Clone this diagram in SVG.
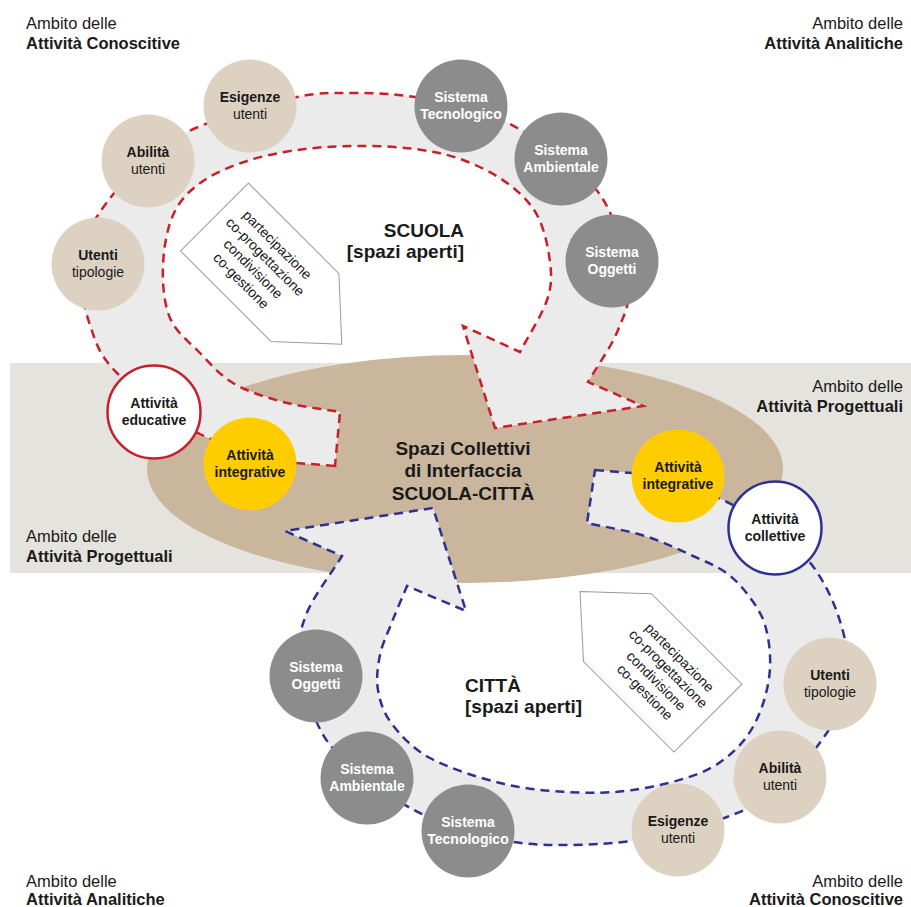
<svg xmlns="http://www.w3.org/2000/svg" width="911" height="907" viewBox="0 0 911 907">
<style>
text{font-family:"Liberation Sans",Arial,Helvetica,sans-serif;fill:#1a1a1a}
.b{font-weight:bold}
.lab{font-size:16.5px}
.c{font-size:14px;text-anchor:middle}
.w{fill:#ffffff}
.big{font-size:19px;font-weight:bold}
.p{font-size:14px;text-anchor:middle}
.beige{fill:#ddd1c1}
.grey{fill:#8c8c8c}
.yel{fill:#ffcc00}
.band{fill:#ebebeb}
.red{fill:none;stroke:#c8202a;stroke-width:2.5;stroke-dasharray:9 6}
.blue{fill:none;stroke:#2e3192;stroke-width:2.5;stroke-dasharray:9 6}
.tag{fill:#ffffff;stroke:#9a9a9a;stroke-width:1}
</style>
<rect x="0" y="0" width="911" height="907" fill="#ffffff"/>
<rect x="10" y="363" width="901" height="210" fill="#e5e3de"/>
<ellipse id="interfaccia-shape" cx="465" cy="469" rx="318" ry="114" fill="#c9b69d"/>

<g id="bands">
<path id="scuola-loop" class="band" d="M335,466 L297,463 C274.5,457.7 230,449 200,434 C170,419 135.3,391.2 117,373 C98.7,354.8 96.2,343 90,325 C83.8,307 78.7,283.3 80,265 C81.3,246.7 86.7,232.8 98,215 C109.3,197.2 130.5,173 148,158 C165.5,143 178.2,135.2 203,125 C227.8,114.8 271.5,102.3 297,97 C322.5,91.7 336.3,93.2 356,93 C375.7,93 395,94 415,97 C440.7,102.2 479.5,108.2 510,124 C540.5,139.8 578.3,166 598,192 C617.7,218 624.7,257 628,280 C631.3,303 624.7,313 618,330 C611.3,347 598,364.7 588,382 L643,406 L495,428 L463,326 L520,352 C529,334.7 542,315 547,300 C552,285 551.7,276.2 550,262 C548.3,247.8 544.2,228.2 537,215 C529.8,201.8 519.3,192.2 507,183 C494.7,173.8 478.3,165.7 463,160 C447.7,154.3 432.2,151.3 415,149 C397.8,146.7 378.3,146 360,146 C341.7,146 323.3,146.7 305,149 C286.7,151.3 267,154.7 250,160 C233,165.3 215.7,172.2 203,181 C190.3,189.8 180.7,199 174,213 C167.3,227 163.7,247.5 163,265 C162.3,282.5 163.8,303.3 170,318 C176.2,332.7 189.5,342.2 200,353 C210.5,363.8 219.2,374.8 233,383 C246.8,391.2 265.2,397.2 283,402 C300.8,406.8 321,408.7 340,412 L335,466 Z"/>
<use href="#scuola-loop" class="red"/>
<path id="citta-loop" class="band" d="M595,470 L632,473 C646.2,475.3 664.2,479.2 680,484 C695.8,488.8 711.2,494.3 727,502 C742.8,509.7 760.8,519.5 775,530 C789.2,540.5 801.5,550.8 812,565 C822.5,579.2 831.8,596.7 838,615 C844.2,633.3 850,656.7 849,675 C848,693.3 843.2,706.7 832,725 C820.8,743.3 799.5,769.7 782,785 C764.5,800.3 751.8,807.7 727,817 C702.2,826.3 668.7,836.8 633,841 C597.3,845.2 549.5,847.2 513,842 C476.5,836.8 444.5,826.2 414,810 C383.5,793.8 348.8,769.2 330,745 C311.2,720.8 305,686.7 301,665 C297,643.3 299.2,633.2 306,615 C312.8,596.8 330,575.7 342,556 L285,531 L433,508 L466,611 L407,586 C402,598 396.5,610.5 392,622 C387.5,633.5 382.3,643.7 380,655 C377.7,666.3 376,678.5 378,690 C380,701.5 383.3,712.7 392,724 C400.7,735.3 412,748.2 430,758 C448,767.8 477.2,777.3 500,783 C522.8,788.7 544.8,790.8 567,792 C589.2,793.2 610.8,793.2 633,790 C655.2,786.8 682.5,780.2 700,773 C717.5,765.8 728,757.2 738,747 C748,736.8 754.7,725.2 760,712 C765.3,698.8 769.2,682.5 770,668 C770.8,653.5 768.7,637.2 765,625 C761.3,612.8 754.7,603.8 748,595 C741.3,586.2 734.2,578.5 725,572 C715.8,565.5 706.3,562 693,556 C679.7,550 662.7,541.5 645,536 C628,530.5 606.3,527.3 587,523 L595,470 Z"/>
<use href="#citta-loop" class="blue"/>
</g>

<g id="tag-scuola" transform="translate(259,263) rotate(45)">
<polygon class="tag" points="-64,-49 64,-49 116,-1 64,47 -64,47"/>
<text class="p" x="0" y="-21">partecipazione</text>
<text class="p" x="0" y="-4">co-progettazione</text>
<text class="p" x="0" y="13">condivisione</text>
<text class="p" x="0" y="30">co-gestione</text>
</g>
<g id="tag-citta" transform="translate(662,675) rotate(45)">
<polygon class="tag" points="-117,-1 -65,-50 63,-50 63,46 -65,46"/>
<text class="p" x="0" y="-20">partecipazione</text>
<text class="p" x="0" y="-4">co-progettazione</text>
<text class="p" x="0" y="13">condivisione</text>
<text class="p" x="0" y="29">co-gestione</text>
</g>

<g id="n-utenti-1"><circle class="beige" cx="98" cy="264" r="46.5"/><text class="c b" x="98" y="260">Utenti</text><text class="c" x="98" y="277">tipologie</text></g>
<g id="n-abilita-1"><circle class="beige" cx="148" cy="161" r="46.5"/><text class="c b" x="148" y="157">Abilità</text><text class="c" x="148" y="174">utenti</text></g>
<g id="n-esigenze-1"><circle class="beige" cx="250" cy="106" r="46.5"/><text class="c b" x="250" y="102">Esigenze</text><text class="c" x="250" y="119">utenti</text></g>
<g id="n-tecnologico-1"><circle class="grey" cx="461" cy="106" r="46.5"/><text class="c b w" x="461" y="102">Sistema</text><text class="c b w" x="461" y="119">Tecnologico</text></g>
<g id="n-ambientale-1"><circle class="grey" cx="561" cy="159" r="46.5"/><text class="c b w" x="561" y="155">Sistema</text><text class="c b w" x="561" y="172">Ambientale</text></g>
<g id="n-oggetti-1"><circle class="grey" cx="612" cy="261" r="46.5"/><text class="c b w" x="612" y="257">Sistema</text><text class="c b w" x="612" y="274">Oggetti</text></g>
<g id="n-educative"><circle cx="154" cy="412" r="46.5" fill="#ffffff" stroke="#c8202a" stroke-width="2.5"/><text class="c b" x="154" y="408">Attività</text><text class="c b" x="154" y="425">educative</text></g>
<g id="n-integrative-1"><circle class="yel" cx="250" cy="464" r="46.5"/><text class="c b" x="250" y="460">Attività</text><text class="c b" x="250" y="477">integrative</text></g>

<g id="n-integrative-2"><circle class="yel" cx="678" cy="476" r="46.5"/><text class="c b" x="678" y="472">Attività</text><text class="c b" x="678" y="489">integrative</text></g>
<g id="n-collettive"><circle cx="775" cy="528" r="46.5" fill="#ffffff" stroke="#2e3192" stroke-width="2.5"/><text class="c b" x="775" y="524">Attività</text><text class="c b" x="775" y="541">collettive</text></g>
<g id="n-utenti-2"><circle class="beige" cx="830" cy="684" r="46.5"/><text class="c b" x="830" y="680">Utenti</text><text class="c" x="830" y="697">tipologie</text></g>
<g id="n-abilita-2"><circle class="beige" cx="780" cy="777" r="46.5"/><text class="c b" x="780" y="773">Abilità</text><text class="c" x="780" y="790">utenti</text></g>
<g id="n-esigenze-2"><circle class="beige" cx="678" cy="830" r="46.5"/><text class="c b" x="678" y="826">Esigenze</text><text class="c" x="678" y="843">utenti</text></g>
<g id="n-tecnologico-2"><circle class="grey" cx="468" cy="831" r="46.5"/><text class="c b w" x="468" y="827">Sistema</text><text class="c b w" x="468" y="844">Tecnologico</text></g>
<g id="n-ambientale-2"><circle class="grey" cx="367" cy="778" r="46.5"/><text class="c b w" x="367" y="774">Sistema</text><text class="c b w" x="367" y="791">Ambientale</text></g>
<g id="n-oggetti-2"><circle class="grey" cx="316" cy="676" r="46.5"/><text class="c b w" x="316" y="672">Sistema</text><text class="c b w" x="316" y="689">Oggetti</text></g>

<g id="n-scuola"><text class="big" x="464" y="237" text-anchor="end">SCUOLA</text><text class="big" x="464" y="258" text-anchor="end">[spazi aperti]</text></g>
<g id="n-citta"><text class="big" x="465" y="692">CITTÀ</text><text class="big" x="465" y="713">[spazi aperti]</text></g>
<g id="n-interfaccia"><text class="big" x="463" y="455" text-anchor="middle">Spazi Collettivi</text><text class="big" x="463" y="477" text-anchor="middle">di Interfaccia</text><text class="big" x="463" y="500" text-anchor="middle">SCUOLA-CITTÀ</text></g>

<g id="labels">
<text class="lab" x="26" y="29">Ambito delle</text><text class="lab b" x="26" y="49">Attività Conoscitive</text>
<text class="lab" x="903" y="29" text-anchor="end">Ambito delle</text><text class="lab b" x="903" y="49" text-anchor="end">Attività Analitiche</text>
<text class="lab" x="903" y="392" text-anchor="end">Ambito delle</text><text class="lab b" x="903" y="412" text-anchor="end">Attività Progettuali</text>
<text class="lab" x="26" y="542">Ambito delle</text><text class="lab b" x="26" y="562">Attività Progettuali</text>
<text class="lab" x="26" y="887">Ambito delle</text><text class="lab b" x="26" y="905">Attività Analitiche</text>
<text class="lab" x="903" y="887" text-anchor="end">Ambito delle</text><text class="lab b" x="903" y="905" text-anchor="end">Attività Conoscitive</text>
</g>
</svg>
